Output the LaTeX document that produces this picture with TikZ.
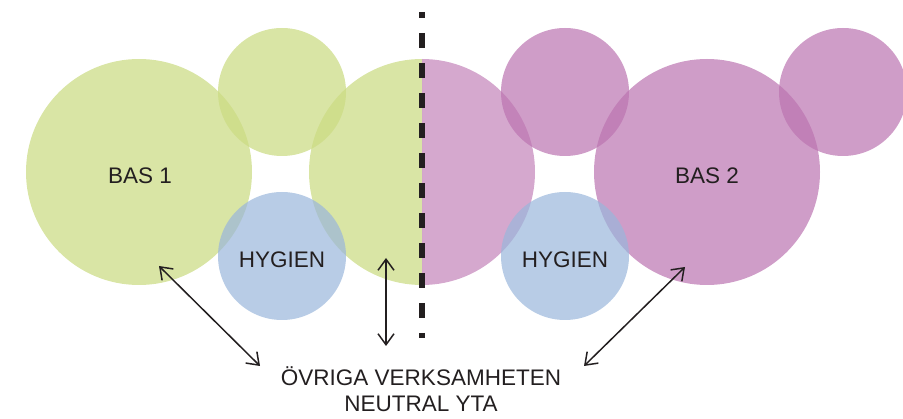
\documentclass[tikz,border=0pt]{standalone}
\usepackage{fontspec}
\setmainfont{Liberation Sans}
\usetikzlibrary{arrows.meta}
\definecolor{gr}{RGB}{203,219,131}
\definecolor{mg}{RGB}{187,115,176}
\definecolor{bl}{RGB}{154,182,219}
\definecolor{ink}{RGB}{35,31,32}
\begin{document}
\begin{tikzpicture}[x=1pt,y=-1pt,
  blob/.style={circle,inner sep=0pt,minimum size=#1},
  greenfill/.style={fill=gr,fill opacity=0.73},
  magfill/.style={fill=mg,fill opacity=0.70},
  magfilllight/.style={fill=mg,fill opacity=0.62},
  bluefill/.style={fill=bl,fill opacity=0.70},
  lbl/.style={text=ink,inner sep=0pt,anchor=base,font=\fontsize{22.5}{26}\selectfont},
  dblarrow/.style={draw=ink,line width=1.5pt,{Straight Barb[length=11pt,width=16pt]}-{Straight Barb[length=11pt,width=16pt]}},
  divider/.style={draw=ink,line width=5.5pt,dash pattern=on 15pt off 15pt,dash phase=9pt}]
\useasboundingbox (0,0) rectangle (903,419);
\clip (0,0) rectangle (903,419);
% big circles
\node[blob=226pt,greenfill] (bas1) at (139,172) {};
\node[blob=226pt] (mid) at (422,172) {};
\begin{scope}
  \clip (300,40) rectangle (422,300);
  \fill[greenfill] (mid.center) circle[radius=113pt];
\end{scope}
\begin{scope}
  \clip (422,40) rectangle (550,300);
  \fill[magfilllight] (mid.center) circle[radius=113pt];
\end{scope}
\node[blob=226pt,magfill] (bas2) at (707,172) {};
% small top circles
\node[blob=128pt,greenfill] (topg) at (282,92) {};
\node[blob=128pt,magfill] (topm) at (565,92) {};
\node[blob=128pt,magfill] (topr) at (843,92) {};
% hygien circles
\node[blob=128pt,bluefill] (hyg1) at (282,256) {};
\node[blob=128pt,bluefill] (hyg2) at (565,256) {};
% labels
\node[lbl] (tbas1) at (140,184) {BAS 1};
\node[lbl] (tbas2) at (707,184) {BAS 2};
\node[lbl] (thyg1) at (282,268) {HYGIEN};
\node[lbl] (thyg2) at (565,268) {HYGIEN};
\node[lbl] (ovr) at (421,386) {ÖVRIGA VERKSAMHETEN};
\node[lbl] (neu) at (421,412) {NEUTRAL YTA};
% divider
\coordinate (dtop) at (422,12);
\coordinate (dbot) at (422,338);
\draw[divider] (dtop) -- (dbot);
% arrows
\coordinate (a1s) at (159,266);
\coordinate (a1e) at (260,366);
\coordinate (a2s) at (386,258);
\coordinate (a2e) at (386,346);
\coordinate (a3s) at (685,267);
\coordinate (a3e) at (584,366);
\draw[dblarrow] (a1s) -- (a1e);
\draw[dblarrow] (a2s) -- (a2e);
\draw[dblarrow] (a3s) -- (a3e);
\end{tikzpicture}
\end{document}
